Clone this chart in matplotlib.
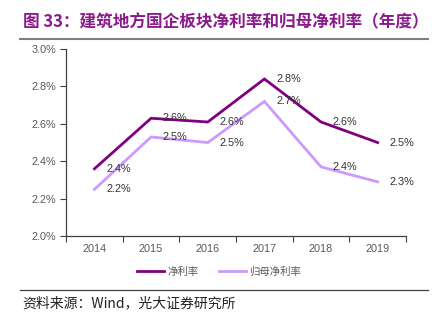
import matplotlib
matplotlib.use("Agg")
import matplotlib.pyplot as plt
from matplotlib.lines import Line2D

plt.rcParams['font.family'] = ['Liberation Sans', 'Noto Sans CJK SC', 'DejaVu Sans']

years = ['2014', '2015', '2016', '2017', '2018', '2019']
net_margin = [2.36, 2.63, 2.61, 2.84, 2.61, 2.50]
parent_margin = [2.25, 2.53, 2.50, 2.72, 2.37, 2.29]
series_names = ['净利率', '归母净利率']
title = '图 33：建筑地方国企板块净利率和归母净利率（年度）'
source = '资料来源：Wind，光大证券研究所'

c_dark = '#800080'
c_light = '#CC99FF'

fig = plt.figure(figsize=(4.38, 3.27), dpi=100)
ax = fig.add_axes([0.151, 0.278, 0.776, 0.572])

x = list(range(len(years)))
ax.plot(x, net_margin, color=c_dark, lw=2.0, solid_joinstyle='miter')
ax.plot(x, parent_margin, color=c_light, lw=2.0, solid_joinstyle='miter')

for xi, v in zip(x, net_margin):
    ax.annotate(f'{v:.1f}%', (xi, v), xytext=(8.5, 0), textcoords='offset points',
                ha='left', va='center', fontsize=7.8, color='#333333')
for xi, v in zip(x, parent_margin):
    ax.annotate(f'{v:.1f}%', (xi, v), xytext=(8.5, 0), textcoords='offset points',
                ha='left', va='center', fontsize=7.8, color='#333333')

ax.set_ylim(2.0, 3.0)
ax.set_yticks([2.0, 2.2, 2.4, 2.6, 2.8, 3.0])
ax.set_yticklabels([f'{t:.1f}%' for t in [2.0, 2.2, 2.4, 2.6, 2.8, 3.0]])
ax.set_xlim(-0.5, len(years) - 0.5)
ax.set_xticks([i - 0.5 for i in range(len(years) + 1)])
ax.set_xticklabels([])
ax.set_xticks(x, minor=True)
ax.set_xticklabels(years, minor=True)
ax.tick_params(axis='x', which='minor', length=0, pad=6, labelsize=7.8, labelcolor='#595959')
ax.tick_params(axis='x', which='major', length=4, color='#404040', width=0.8)
ax.tick_params(axis='y', length=4, color='#404040', width=0.8, labelsize=7.8, labelcolor='#595959', pad=3)
for s in ['top', 'right']:
    ax.spines[s].set_visible(False)
for s in ['left', 'bottom']:
    ax.spines[s].set_color('#404040')
    ax.spines[s].set_linewidth(0.9)

handles = [Line2D([], [], color=c_dark, lw=2.0), Line2D([], [], color=c_light, lw=2.0)]
fig.legend(handles, series_names, loc='center', bbox_to_anchor=(0.5, 1 - 272 / 327), ncol=2,
           frameon=False, labelcolor='#595959', handlelength=2.6,
           handletextpad=0.3, columnspacing=2.0, prop={'family': ['Noto Sans CJK SC'], 'size': 7.5})

fig.text(23 / 438, 1 - 22 / 327, title, ha='left', va='center', fontsize=12,
         color='#8B1A8B', fontweight='bold', family=['Noto Sans CJK SC', 'DejaVu Sans'])
fig.add_artist(Line2D([20 / 438, 428 / 438], [1 - 39 / 327] * 2, color='#7f7f7f', lw=1.5))
fig.add_artist(Line2D([20 / 438, 428 / 438], [1 - 290 / 327] * 2, color='#404040', lw=0.9))
fig.text(22 / 438, 1 - 303 / 327, source, ha='left', va='center', fontsize=10,
         color='#222222', family=['Noto Sans CJK SC', 'DejaVu Sans'])

fig.savefig('out.png', dpi=100)
